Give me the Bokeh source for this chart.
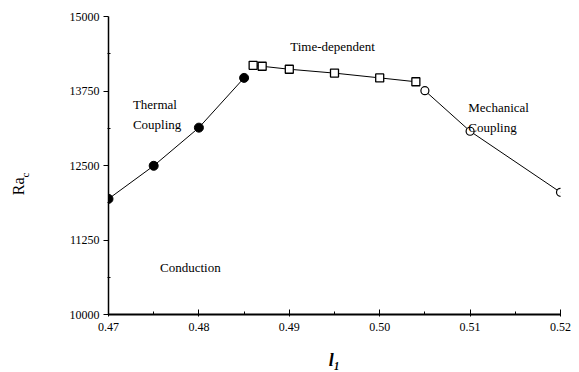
from bokeh.plotting import figure
from bokeh.models import Label, FixedTicker, Range1d
from bokeh.layouts import row
from bokeh.embed import file_html
from bokeh.resources import INLINE
import math

# Critical Rayleigh number vs. l1 for the three onset regimes
thermal_l1 = [0.470, 0.475, 0.480, 0.485]
thermal_ra = [11940, 12495, 13135, 13970]

timedep_l1 = [0.486, 0.487, 0.490, 0.495, 0.500, 0.504]
timedep_ra = [14180, 14165, 14115, 14050, 13970, 13905]

mech_l1 = [0.505, 0.510, 0.520]
mech_ra = [13755, 13075, 12050]

x_ticks = [0.47, 0.48, 0.49, 0.50, 0.51, 0.52]
x_tick_labels = ["0.47", "0.48", "0.49", "0.50", "0.51", "0.52"]
y_ticks = [10000, 11250, 12500, 13750, 15000]

FONT = "Liberation Serif"
TITLE_W = 40  # strip holding the rotated y title

p = figure(width=579 - TITLE_W, height=372, output_backend="svg",
           toolbar_location=None,
           x_range=Range1d(0.47, 0.52), y_range=Range1d(10000, 15000),
           min_border_left=108 - TITLE_W, min_border_right=19,
           min_border_top=16, min_border_bottom=58)
p.outline_line_color = None
p.grid.visible = False
p.background_fill_color = "white"
p.border_fill_color = "white"

# Axes
p.xaxis.ticker = FixedTicker(ticks=x_ticks,
                             minor_ticks=[0.475, 0.485, 0.495, 0.505, 0.515])
p.xaxis.major_label_overrides = {t: s for t, s in zip(x_ticks, x_tick_labels)}
p.yaxis.ticker = FixedTicker(ticks=y_ticks,
                             minor_ticks=[10625, 11875, 13125, 14375])
for ax in (p.xaxis, p.yaxis):
    ax.axis_line_color = "black"
    ax.major_tick_line_color = "black"
    ax.minor_tick_line_color = "black"
    ax.major_label_text_font = FONT
    ax.major_label_text_font_size = "12px"
    ax.major_label_text_color = "black"
p.xaxis.axis_line_width = 2
p.yaxis.axis_line_width = 1.5
p.xaxis.major_tick_in = 5
p.xaxis.major_tick_out = 2
p.xaxis.minor_tick_in = 3
p.xaxis.minor_tick_out = 0
p.xaxis.major_label_standoff = 6
p.yaxis.major_tick_in = 0
p.yaxis.major_tick_out = 5
p.yaxis.minor_tick_in = 2
p.yaxis.minor_tick_out = 1
p.yaxis.major_label_standoff = 4

# x title: l with subscript 1
p.xaxis.axis_label = "l\u2081"
p.xaxis.axis_label_text_font = FONT
p.xaxis.axis_label_text_font_size = "18px"
p.xaxis.axis_label_text_font_style = "bold italic"
p.xaxis.axis_label_text_color = "black"
p.xaxis.axis_label_standoff = 16

# Curves
p.line(thermal_l1, thermal_ra, line_color="black", line_width=1)
p.scatter(thermal_l1, thermal_ra, marker="circle", size=9,
          fill_color="black", line_color="black")

p.line(timedep_l1, timedep_ra, line_color="black", line_width=1)
p.scatter(timedep_l1, timedep_ra, marker="square", size=8,
          fill_color="white", line_color="black", line_width=1.3)

p.line(mech_l1, mech_ra, line_color="black", line_width=1)
p.scatter(mech_l1, mech_ra, marker="circle", size=8,
          fill_color="white", line_color="black", line_width=1.2)

# Regime annotations
def note(fig, x, y, txt, size="13px", **kw):
    fig.add_layout(Label(x=x, y=y, text=txt, text_font=FONT,
                         text_font_size=size, text_color="black", **kw))

note(p, 0.4727, 13395, "Thermal")
note(p, 0.4727, 13060, "Coupling")
note(p, 0.4901, 14370, "Time-dependent")
note(p, 0.5098, 13345, "Mechanical")
note(p, 0.5098, 13010, "Coupling")
note(p, 0.4757, 10660, "Conduction")

# Narrow strip carrying the rotated y title "Ra" with subscript "c"
t = figure(width=TITLE_W, height=372, output_backend="svg",
           toolbar_location=None, x_range=Range1d(0, TITLE_W),
           y_range=Range1d(0, 372), min_border=0)
t.axis.visible = False
t.grid.visible = False
t.outline_line_color = None
t.background_fill_color = "white"
t.border_fill_color = "white"
note(t, 26, 372 - 223, "Ra", size="16px", angle=math.pi / 2)
note(t, 30, 372 - 201, "c", size="11px", angle=math.pi / 2)

layout = row(t, p, spacing=0)
open("out.html", "w").write(file_html(layout, INLINE))
